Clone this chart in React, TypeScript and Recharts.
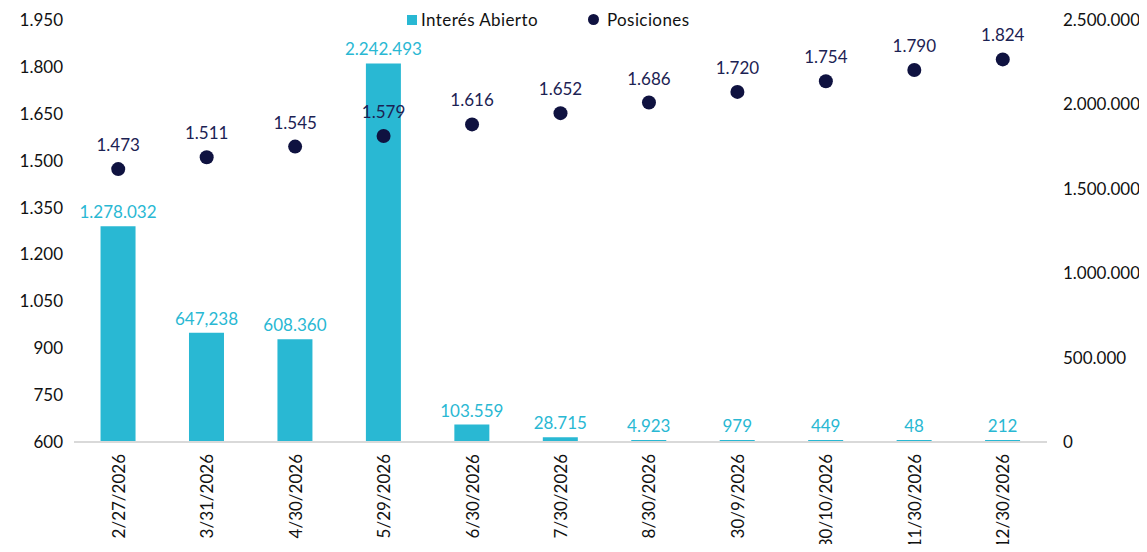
import React from 'react';
import { ComposedChart, Bar, Line, XAxis, YAxis, LabelList, Legend } from 'recharts';

const categories = ['2/27/2026', '3/31/2026', '4/30/2026', '5/29/2026', '6/30/2026', '7/30/2026', '8/30/2026', '30/9/2026', '30/10/2026', '11/30/2026', '12/30/2026'];
const interesAbierto = [1278032, 647238, 608360, 2242493, 103559, 28715, 4923, 979, 449, 48, 212];
const interesLabels = ['1.278.032', '647,238', '608.360', '2.242.493', '103.559', '28.715', '4.923', '979', '449', '48', '212'];
const posiciones = [1473, 1511, 1545, 1579, 1616, 1652, 1686, 1720, 1754, 1790, 1824];
const leftTicks = [600, 750, 900, 1050, 1200, 1350, 1500, 1650, 1800, 1950];
const rightTicks = [0, 500000, 1000000, 1500000, 2000000, 2500000];

const CYAN = '#29B8D3';
const NAVY = '#0F1240';
const LABEL_NAVY = '#1C2253';
const FONT = 'Lato, "Noto Sans", sans-serif';

const fmt = (v: number) => String(Math.round(v)).replace(/\B(?=(\d{3})+(?!\d))/g, '.');

const data = categories.map((c, i) => ({
  name: c,
  interes: interesAbierto[i],
  interesLabel: interesLabels[i],
  posiciones: posiciones[i],
}));

const XTick = (props: any) => {
  const { x, y, payload } = props;
  return (
    <text
      x={x}
      y={y}
      transform={`rotate(-90, ${x}, ${y})`}
      textAnchor="end"
      dominantBaseline="central"
      fontSize={17}
      fontFamily={FONT}
      fill="#111"
    >
      {payload.value}
    </text>
  );
};

const LegendContent = () => (
  <div style={{ display: 'flex', alignItems: 'center', fontFamily: FONT, fontSize: 17, color: '#111', whiteSpace: 'nowrap', letterSpacing: 0.4 }}>
    <span style={{ display: 'inline-block', width: 10, height: 10, background: CYAN, marginRight: 4 }} />
    <span>Interés Abierto</span>
    <span style={{ display: 'inline-block', width: 11, height: 11, borderRadius: '50%', background: NAVY, marginLeft: 50, marginRight: 8 }} />
    <span>Posiciones</span>
  </div>
);

export default function App() {
  return (
    <ComposedChart
      width={1139}
      height={536}
      data={data}
      margin={{ top: 12, right: 0, bottom: 0, left: 0 }}
      barCategoryGap="30%"
    >
      <XAxis
        dataKey="name"
        xAxisId={0}
        height={102}
        interval={0}
        tickLine={false}
        axisLine={{ stroke: '#D9D9D9', strokeWidth: 2 }}
        tick={<XTick />}
        tickSize={0}
        tickMargin={12}
      />
      <YAxis
        yAxisId="left"
        orientation="left"
        width={66}
        domain={[600, 1950]}
        ticks={leftTicks}
        tickFormatter={fmt}
        axisLine={false}
        tickLine={false}
        tickSize={0}
        tickMargin={11}
        tick={{ fontSize: 17, fontFamily: FONT, fill: '#111' }}
      />
      <YAxis
        yAxisId="right"
        orientation="right"
        width={100}
        domain={[0, 2500000]}
        ticks={rightTicks}
        tickFormatter={fmt}
        axisLine={false}
        tickLine={false}
        tickSize={0}
        tickMargin={16}
        tick={{ fontSize: 17, fontFamily: FONT, fill: '#111', textAnchor: 'start' }}
      />
      <Legend
        verticalAlign="middle"
        align="center"
        layout="horizontal"
        content={<LegendContent />}
        wrapperStyle={{ top: 1, left: 399, width: 330, height: 24 }}
      />
      <Bar yAxisId="right" dataKey="interes" fill={CYAN} minPointSize={2} isAnimationActive={false}>
        <LabelList dataKey="interesLabel" position="top" offset={8} fill={CYAN} fontSize={17} fontFamily={FONT} />
      </Bar>
      <Line
        yAxisId="left"
        dataKey="posiciones"
        stroke="none"
        dot={{ r: 7, fill: NAVY, stroke: 'none' }}
        activeDot={false}
        isAnimationActive={false}
      >
        <LabelList dataKey="posiciones" position="top" offset={18} formatter={(v: any) => fmt(Number(v))} fill={LABEL_NAVY} fontSize={17} fontFamily={FONT} />
      </Line>
    </ComposedChart>
  );
}
